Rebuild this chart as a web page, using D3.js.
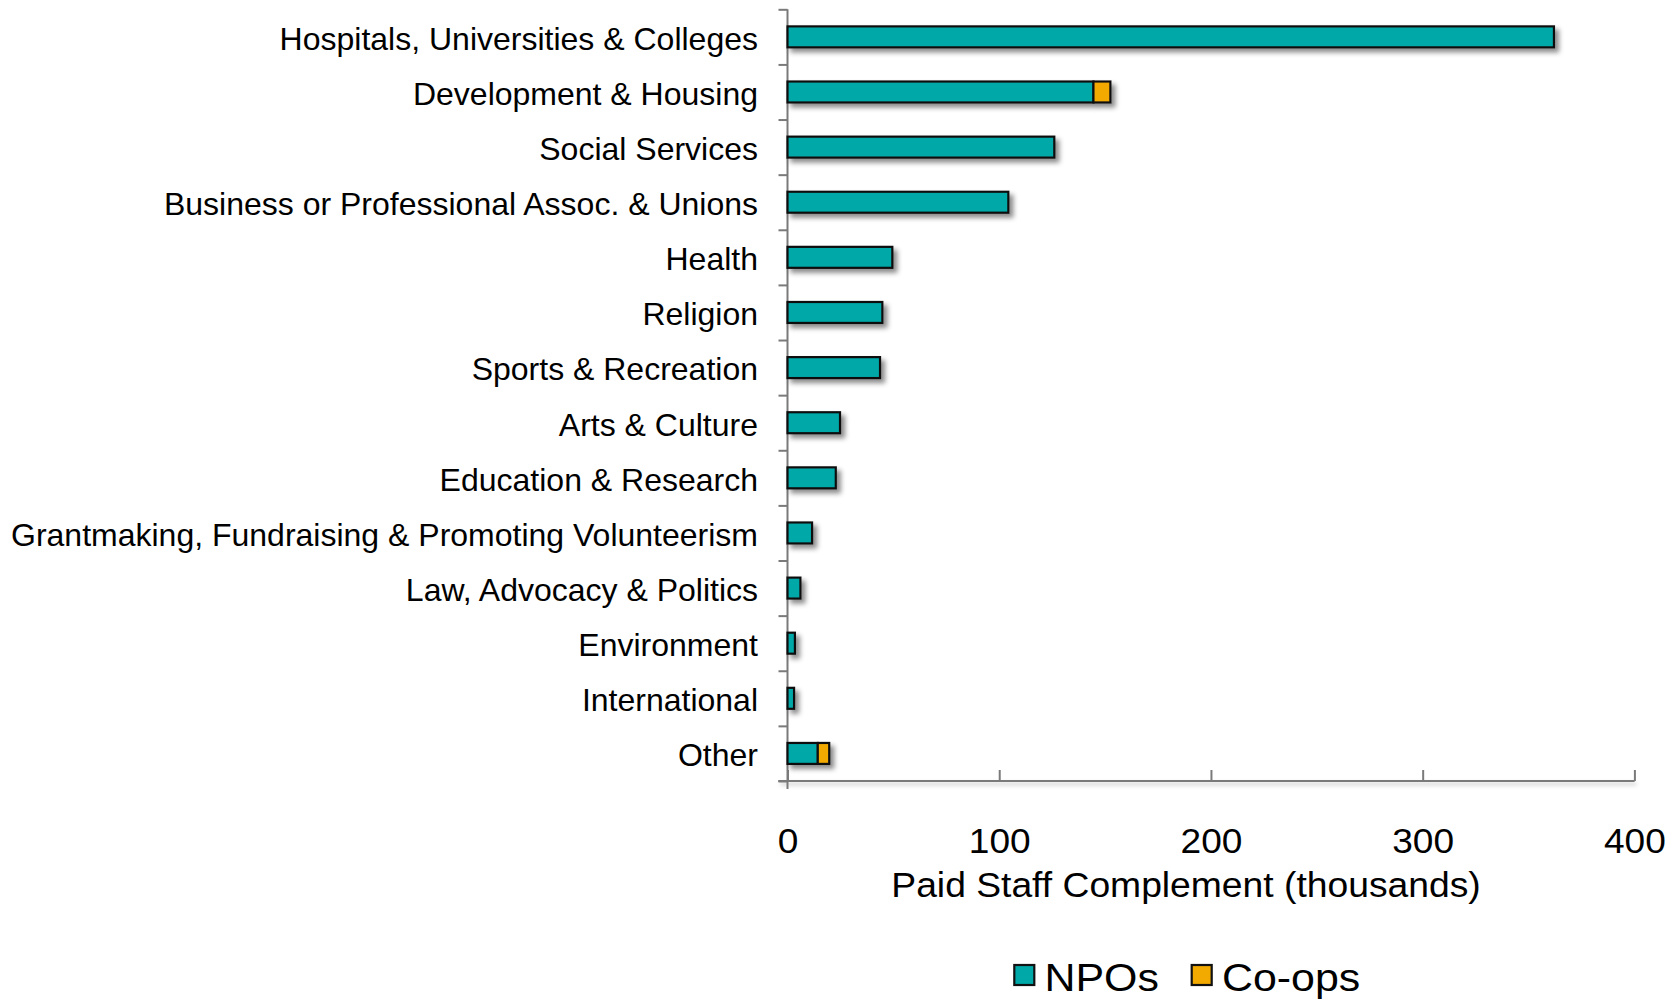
<!DOCTYPE html>
<html>
<head>
<meta charset="utf-8">
<script src="https://cdn.jsdelivr.net/npm/d3@7"></script>
<style>
  html, body { margin: 0; padding: 0; background: #fff; }
  svg { display: block; font-family: "Liberation Sans", Arial, Helvetica, sans-serif; }
</style>
</head>
<body>
<svg id="chart" width="1676" height="1001"></svg>
<script>
// ---- data ----
const categories = [
  "Hospitals, Universities & Colleges",
  "Development & Housing",
  "Social Services",
  "Business or Professional Assoc. & Unions",
  "Health",
  "Religion",
  "Sports & Recreation",
  "Arts & Culture",
  "Education & Research",
  "Grantmaking, Fundraising & Promoting Volunteerism",
  "Law, Advocacy & Politics",
  "Environment",
  "International",
  "Other"
];
const npos  = [362, 144.5, 126, 104.3, 49.5, 44.8, 43.7, 24.8, 22.8, 11.6, 6.1, 3.5, 3.1, 14.3];
const coops = [0,   8,     0,   0,     0,    0,    0,    0,    0,    0,    0,   0,   0,   5.4];
const seriesNames = ["NPOs", "Co-ops"];
const xTicks = [0, 100, 200, 300, 400];
const xTitle = "Paid Staff Complement (thousands)";

// ---- layout ----
const colors = { "NPOs": "#00A8A8", "Co-ops": "#F2AA00" };
const plotL = 787.5, plotR = 1634.4, plotT = 9.3, plotB = 781;

const svg = d3.select("#chart");
const defs = svg.append("defs");
const f = defs.append("filter").attr("id", "shadow")
  .attr("x", "-10%").attr("y", "-30%").attr("width", "130%").attr("height", "180%");
f.append("feDropShadow").attr("dx", 4).attr("dy", 4).attr("stdDeviation", 2.5)
  .attr("flood-color", "#000").attr("flood-opacity", 0.45);
const f2 = defs.append("filter").attr("id", "shadowAxis")
  .attr("filterUnits", "userSpaceOnUse")
  .attr("x", plotL - 20).attr("y", plotB - 20).attr("width", plotR - plotL + 50).attr("height", 40);
f2.append("feDropShadow").attr("dx", 2).attr("dy", 3).attr("stdDeviation", 2)
  .attr("flood-color", "#000").attr("flood-opacity", 0.25);

const x = d3.scaleLinear().domain([0, 400]).range([plotL, plotR]);
const y = d3.scaleBand().domain(categories).range([plotT, plotB]).padding(0);
const yIdx = d3.scaleLinear().domain([0, categories.length]).range([plotT, plotB]);

// stacked data
const rows = categories.map((c, i) => ({ cat: c, "NPOs": npos[i], "Co-ops": coops[i] }));
const stack = d3.stack().keys(seriesNames)(rows);

const barH = y.bandwidth() * 0.38;

// axes (drawn first so bars overlay)
const gx = svg.append("g")
  .attr("transform", `translate(0,${plotB})`)
  .call(d3.axisBottom(x).tickValues(xTicks).tickSizeInner(-11).tickSizeOuter(0).tickFormat(d3.format("d")));
gx.select(".domain").attr("d", `M${plotL - 9},0H${plotR}`);
gx.selectAll(".domain, .tick line").attr("stroke", "#7a7a7a").attr("stroke-width", 2);
gx.selectAll(".tick text")
  .attr("y", 0).attr("dy", 0)
  .attr("transform", "translate(0,71.5) scale(1.06,1)")
  .attr("fill", "#000")
  .style("font-size", "35px")
  .style("font-family", "'Liberation Sans', Arial, sans-serif");
// soft shadow under the x-axis line
svg.insert("line", ":first-child")
  .attr("x1", x(0) - 9).attr("x2", x(400)).attr("y1", plotB).attr("y2", plotB)
  .attr("stroke", "#7a7a7a").attr("stroke-width", 2)
  .attr("filter", "url(#shadowAxis)");

const gyTicks = svg.append("g")
  .attr("transform", `translate(${plotL},0)`)
  .call(d3.axisLeft(yIdx).tickValues(d3.range(categories.length + 1)).tickSize(9).tickFormat(""));
gyTicks.select(".domain").attr("d", `M0,${plotT}V${plotB + 8}`);
gyTicks.selectAll(".domain, .tick line").attr("stroke", "#7a7a7a").attr("stroke-width", 2);

const gyLabels = svg.append("g")
  .attr("transform", `translate(${plotL},0)`)
  .call(d3.axisLeft(y).tickSize(0).tickPadding(29.5));
gyLabels.select(".domain").remove();
gyLabels.selectAll(".tick text")
  .attr("dy", "0.4em")
  .attr("fill", "#000")
  .style("font-size", "32px")
  .style("font-family", "'Liberation Sans', Arial, sans-serif");

// bars
const layers = svg.append("g").attr("filter", "url(#shadow)");
stack.forEach(layer => {
  layers.append("g")
    .attr("fill", colors[layer.key])
    .selectAll("rect")
    .data(layer.filter(d => d[1] - d[0] > 0))
    .join("rect")
    .attr("x", d => x(d[0]))
    .attr("width", d => x(d[1]) - x(d[0]))
    .attr("y", d => y(d.data.cat) + (y.bandwidth() - barH) / 2)
    .attr("height", barH)
    .attr("stroke", "#111")
    .attr("stroke-width", 2.2);
});

// x-axis title
svg.append("text")
  .attr("transform", "translate(1186,897) scale(1.05,1)")
  .attr("text-anchor", "middle")
  .attr("fill", "#000")
  .style("font-size", "35.5px")
  .text(xTitle);

// legend
const legendItems = [
  { name: seriesNames[0], sx: 1013.3, tx: 1044.5 },
  { name: seriesNames[1], sx: 1190.7, tx: 1222 }
];
const lg = svg.append("g");
legendItems.forEach(it => {
  lg.append("rect")
    .attr("x", it.sx + 1).attr("y", 965)
    .attr("width", 20).attr("height", 20)
    .attr("fill", colors[it.name])
    .attr("stroke", "#111").attr("stroke-width", 2.2);
  lg.append("text")
    .attr("transform", `translate(${it.tx},991) scale(1.1,1)`)
    .attr("fill", "#000")
    .style("font-size", "39px")
    .text(it.name);
});
</script>
</body>
</html>
